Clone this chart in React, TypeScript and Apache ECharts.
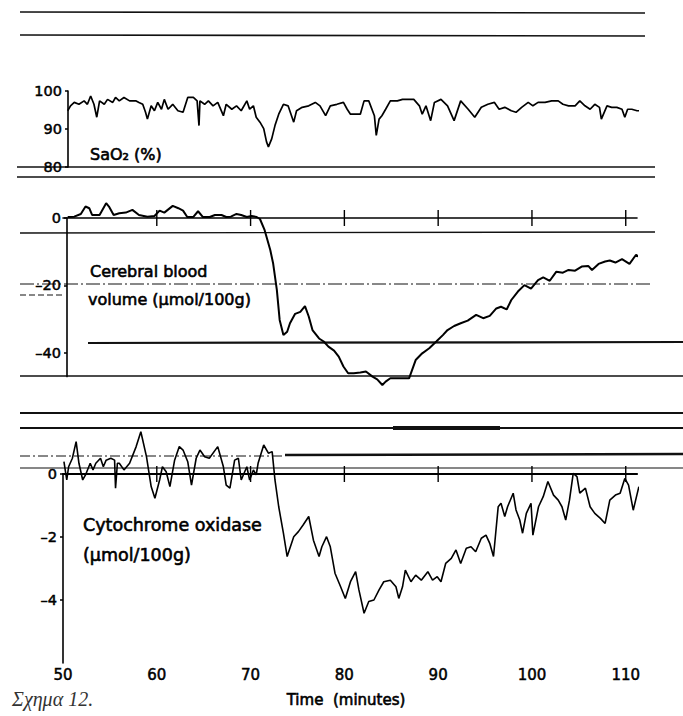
import React, { useEffect, useRef } from "react";
import * as echarts from "echarts";

// ---- data (time in minutes, value) ----
const xTicks = [50, 60, 70, 80, 90, 100, 110];
const zeroLineTicks = [60, 70, 80, 90, 100, 110];
const saTicks = [80, 90, 100];
const cbvTicks = [0, -20, -40];
const cytoTicks = [0, -2, -4];

const saO2: [number, number][] = [
  [50.5, 94.8], [50.8, 96.1], [51.2, 97.0], [51.7, 96.5], [52.25, 97.4], [52.6, 96.5], [52.95, 98.7],
  [53.3, 96.5], [53.6, 93.1], [53.9, 97.4], [54.4, 96.5], [54.75, 97.8], [55.3, 97.0], [55.6, 98.3],
  [56.0, 97.4], [56.5, 98.3], [57.1, 97.4], [57.8, 97.4], [58.1, 97.0], [58.5, 96.5], [58.8, 94.4],
  [59.0, 92.6], [59.4, 96.1], [59.75, 94.8], [60.1, 97.0], [60.5, 95.2], [60.8, 97.8], [61.2, 95.2],
  [61.7, 96.5], [62.25, 94.8], [62.8, 94.4], [63.3, 98.3], [63.9, 98.3], [64.3, 97.4], [64.5, 90.9],
  [64.6, 97.4], [65.1, 96.5], [65.5, 97.4], [66.0, 96.1], [66.5, 97.0], [67.1, 93.5], [67.4, 96.5],
  [68.0, 95.2], [68.5, 96.1], [69.0, 94.8], [69.6, 97.4], [69.9, 95.2], [70.3, 96.1], [70.6, 93.1],
  [71.0, 91.8], [71.4, 90.1], [71.7, 86.6], [71.9, 85.3], [72.25, 87.4], [72.6, 90.9], [73.0, 93.9],
  [73.5, 96.5], [74.0, 96.1], [74.6, 91.8], [74.9, 94.8], [75.5, 95.7], [76.2, 96.1], [76.9, 97.0],
  [77.4, 96.1], [78.0, 93.5], [78.5, 96.1], [79.2, 96.5], [79.9, 97.0], [80.3, 95.2], [80.65, 93.9],
  [81.7, 93.9], [82.1, 97.4], [82.6, 97.4], [83.2, 93.5], [83.4, 88.3], [83.7, 92.6], [84.0, 93.5],
  [84.4, 95.2], [84.9, 97.4], [85.65, 97.4], [86.2, 97.8], [86.7, 97.8], [87.4, 97.8], [88.0, 96.1],
  [88.3, 93.9], [88.7, 96.1], [89.2, 92.2], [89.6, 97.0], [90.3, 97.8], [91.0, 96.1], [91.7, 92.2],
  [92.4, 97.4], [93.2, 95.2], [93.9, 93.1], [94.6, 95.7], [95.3, 96.5], [96.0, 97.0], [96.5, 95.2],
  [97.1, 95.7], [97.8, 94.8], [98.3, 94.4], [98.9, 95.7], [99.6, 97.0], [100.1, 96.1], [100.65, 97.0],
  [101.4, 97.0], [102.1, 97.4], [102.8, 97.4], [103.3, 96.5], [103.9, 96.1], [104.6, 96.1], [105.1, 97.4],
  [105.65, 96.1], [106.2, 95.2], [106.7, 96.5], [107.2, 95.7], [107.4, 92.6], [108.0, 96.1], [108.5, 95.7],
  [109.05, 95.7], [109.6, 95.2], [109.9, 93.1], [110.2, 95.2], [110.65, 95.2], [111.2, 94.8], [111.7, 94.8],
];

const bloodVolume: [number, number][] = [
  [50.5, 0.3], [51.2, 0.4], [51.9, 1.2], [52.4, 3.4], [52.8, 2.9], [53.1, 0.9], [53.9, 0.9], [54.6, 4.4],
  [54.9, 3.4], [55.4, 0.9], [56.0, 1.4], [56.7, 1.6], [57.4, 2.4], [58.1, 0.9], [59.0, 0.4], [59.75, 0.6],
  [60.3, 2.2], [60.8, 1.6], [61.7, 3.6], [62.3, 2.9], [62.8, 2.2], [63.25, 0.3], [63.9, 0.3], [64.4, 2.0],
  [64.9, 0.3], [65.65, 0.3], [66.2, 0.9], [66.9, 0.9], [67.4, 0.3], [67.9, 0.4], [68.5, 1.2], [69.0, 0.9],
  [69.6, 0.3], [70.1, 0.6], [70.65, 0.3], [71.0, -0.3], [71.5, -3.6], [72.1, -9.5], [72.4, -13.4],
  [72.8, -21.3], [73.1, -30.2], [73.5, -34.7], [73.9, -33.7], [74.2, -31.2], [74.75, -28.4], [75.3, -27.8],
  [75.8, -26.1], [76.2, -29.2], [76.6, -33.2], [77.3, -35.7], [77.8, -36.6], [78.3, -38.1], [78.9, -39.3],
  [79.4, -41.1], [79.9, -44.0], [80.4, -46.0], [81.0, -46.0], [81.7, -45.8], [82.3, -45.5], [83.0, -47.0],
  [83.5, -47.8], [84.05, -49.5], [84.4, -48.5], [84.9, -47.5], [85.8, -47.5], [86.9, -47.5], [87.6, -42.1],
  [88.3, -40.1], [89.05, -38.6], [89.8, -36.6], [90.5, -34.7], [91.0, -33.2], [91.7, -32.0], [92.4, -31.2],
  [93.15, -30.4], [94.05, -28.7], [94.8, -29.7], [95.5, -29.0], [96.2, -26.8], [96.7, -26.3], [97.3, -27.1],
  [97.8, -24.3], [98.5, -21.8], [99.2, -19.9], [99.9, -20.9], [100.65, -18.4], [101.2, -17.6], [101.9, -18.6],
  [102.6, -15.9], [103.3, -16.2], [103.9, -15.4], [104.6, -15.6], [105.3, -14.4], [106.0, -14.2], [106.4, -15.4],
  [107.1, -13.6], [107.8, -12.9], [108.3, -12.6], [108.9, -13.2], [109.6, -12.2], [110.4, -13.6], [111.1, -10.9],
  [111.55, -11.9],
];

const cytochrome: [number, number][] = [
  [50.1, 0.39], [50.4, -0.19], [50.6, 0.23], [51.0, 0.5], [51.4, 1.03], [51.7, 0.34], [52.1, -0.19],
  [52.4, -0.03], [52.9, 0.34], [53.2, 0.13], [53.5, 0.34], [54.0, 0.5], [54.3, 0.23], [54.6, 0.44],
  [55.1, 0.5], [55.5, 0.44], [55.6, -0.45], [55.8, 0.34], [56.0, 0.34], [56.5, 0.13], [57.1, 0.34],
  [57.8, 0.87], [58.3, 1.34], [58.9, 0.55], [59.4, -0.4], [59.8, -0.77], [60.3, -0.19], [60.6, 0.23],
  [61.0, 0.07], [61.4, -0.4], [61.9, 0.44], [62.4, 0.87], [62.8, 0.76], [63.3, 0.39], [63.7, -0.35],
  [64.2, 0.5], [64.6, 0.76], [65.1, 0.55], [65.6, 0.5], [66.5, 0.87], [67.1, 0.23], [67.4, -0.35],
  [67.8, -0.45], [68.3, 0.44], [68.7, 0.5], [69.0, -0.19], [69.6, 0.23], [69.9, -0.19], [70.3, 0.13],
  [70.6, -0.03], [70.8, 0.34], [71.4, 0.92], [71.9, 0.66], [72.3, 0.71], [72.6, -0.19], [73.0, -1.04],
  [73.5, -1.88], [73.9, -2.62], [74.6, -1.99], [75.1, -1.83], [75.6, -1.62], [76.2, -1.35], [76.7, -2.1],
  [77.3, -2.62], [77.6, -2.31], [78.1, -1.99], [78.5, -2.31], [79.0, -3.15], [79.6, -3.58], [80.1, -3.95],
  [80.65, -3.42], [81.2, -3.1], [81.55, -3.68], [82.1, -4.42], [82.6, -4.05], [83.15, -4.0], [83.7, -3.68],
  [84.2, -3.42], [84.9, -3.37], [85.5, -3.58], [85.8, -3.95], [86.2, -3.58], [86.5, -3.05], [87.1, -3.42],
  [87.6, -3.21], [88.2, -3.37], [88.9, -3.1], [89.4, -3.37], [89.9, -3.26], [90.3, -3.42], [90.8, -2.84],
  [91.4, -2.68], [91.9, -2.41], [92.4, -2.84], [93.0, -2.36], [93.5, -2.31], [94.0, -2.47], [94.6, -2.04],
  [95.1, -1.94], [95.5, -2.2], [95.9, -2.62], [96.4, -1.04], [96.7, -0.93], [97.1, -1.35], [97.4, -1.04],
  [98.0, -0.61], [98.3, -1.14], [98.7, -1.46], [99.0, -1.88], [99.4, -1.25], [99.9, -0.93], [100.1, -1.94],
  [100.7, -1.04], [101.2, -0.72], [101.7, -0.24], [102.3, -0.67], [102.8, -0.83], [103.2, -1.04], [103.6, -1.46],
  [104.0, -0.83], [104.4, 0.02], [104.8, -0.08], [105.1, -0.61], [105.7, -0.45], [106.2, -1.04], [106.7, -1.25],
  [107.3, -1.41], [107.8, -1.57], [108.3, -0.83], [108.9, -0.67], [109.4, -0.61], [109.9, -0.14], [110.3, -0.35],
  [110.8, -1.15], [111.4, -0.4],
];

const FONT = "DejaVu Sans";

function dashLabel(v: number) {
  return String(v).replace("-", "\u2013");
}

function yAxisBase(min: number, max: number, ticks: number[], gridIndex: number, offset: number) {
  return {
    type: "value",
    gridIndex,
    min,
    max,
    offset,
    splitLine: { show: false },
    axisLine: { show: true, lineStyle: { color: "#000", width: 1.6 } },
    axisTick: { show: true, customValues: ticks, length: 3, lineStyle: { color: "#000", width: 1.5 } },
    axisLabel: {
      customValues: ticks,
      formatter: dashLabel,
      color: "#000",
      fontFamily: FONT,
      fontSize: 14.5,
      margin: 6,
      textBorderColor: "#000",
      textBorderWidth: 0.5,
    },
  };
}

function hline(x1: number, y1: number, x2: number, y2: number, w: number, dash?: number[]) {
  return {
    type: "line",
    silent: true,
    shape: { x1, y1, x2, y2 },
    style: { stroke: "#111", lineWidth: w, lineDash: dash },
  };
}

function tickSeries(xIdx: number, yIdx: number) {
  return {
    type: "custom",
    xAxisIndex: xIdx,
    yAxisIndex: yIdx,
    silent: true,
    clip: false,
    data: zeroLineTicks.map((t) => [t, 0]),
    renderItem: (_params: any, api: any) => {
      const p = api.coord([api.value(0), api.value(1)]);
      return {
        type: "line",
        shape: { x1: p[0], y1: p[1] - 8, x2: p[0], y2: p[1] + 8 },
        style: { stroke: "#000", lineWidth: 1.4 },
      };
    },
  };
}

function label(text: string, x: number, y: number, size: number, extra: any = {}) {
  return {
    type: "text",
    x,
    y,
    silent: true,
    style: {
      text,
      fontFamily: FONT,
      fontSize: size,
      fill: "#000",
      stroke: "#000",
      lineWidth: 0.6,
      verticalAlign: "middle",
      ...extra,
    },
  };
}

export default function App() {
  const ref = useRef<HTMLDivElement>(null);

  useEffect(() => {
    if (!ref.current) return;
    const chart = echarts.init(ref.current, undefined, { renderer: "svg" });

    const xBase = {
      type: "value",
      min: 50,
      max: 111.2,
      splitLine: { show: false },
    };

    const option: any = {
      animation: false,
      backgroundColor: "#fff",
      grid: [
        { left: 63, top: 91, width: 574, height: 76 },
        { left: 63, top: 218, width: 574, height: 158.6 },
        { left: 63, top: 474, width: 574, height: 189 },
      ],
      xAxis: [
        { ...xBase, gridIndex: 0, show: false },
        {
          ...xBase,
          gridIndex: 1,
          position: "top",
          axisLine: { show: true, lineStyle: { color: "#000", width: 1.6 } },
          axisTick: { show: false },
          axisLabel: { show: false },
        },
        {
          ...xBase,
          gridIndex: 2,
          position: "bottom",
          interval: 10,
          axisLine: { show: true, lineStyle: { color: "#000", width: 1.8 } },
          axisTick: { show: false },
          axisLabel: {
            customValues: xTicks,
            color: "#000",
            fontFamily: FONT,
            fontSize: 15,
            margin: 4,
            textBorderColor: "#000",
            textBorderWidth: 0.5,
          },
        },
        {
          ...xBase,
          gridIndex: 2,
          position: "top",
          axisLine: { show: true, lineStyle: { color: "#000", width: 1.6 } },
          axisTick: { show: false },
          axisLabel: { show: false },
        },
      ],
      yAxis: [
        yAxisBase(80, 100, saTicks, 0, -5),
        yAxisBase(-47, 0, cbvTicks, 1, -4),
        yAxisBase(-6, 0, cytoTicks, 2, 0),
      ],
      series: [
        {
          type: "line",
          name: "SaO2",
          xAxisIndex: 0,
          yAxisIndex: 0,
          data: saO2,
          showSymbol: false,
          clip: false,
          lineStyle: { color: "#000", width: 1.7 },
        },
        {
          type: "line",
          name: "Cerebral blood volume",
          xAxisIndex: 1,
          yAxisIndex: 1,
          data: bloodVolume,
          showSymbol: false,
          clip: false,
          lineStyle: { color: "#000", width: 2 },
        },
        {
          type: "line",
          name: "Cytochrome oxidase",
          xAxisIndex: 2,
          yAxisIndex: 2,
          data: cytochrome,
          showSymbol: false,
          clip: false,
          lineStyle: { color: "#000", width: 1.6 },
        },
        tickSeries(1, 1),
        tickSeries(3, 2),
      ],
      graphic: [
        // scanned rule lines
        hline(20, 12, 645, 13, 1.6),
        hline(20, 35, 645, 36, 1.6),
        hline(17, 167, 655, 167, 1.5),
        hline(17, 177, 655, 177, 1.3),
        hline(20, 233, 655, 232, 1.3),
        hline(20, 284, 650, 284, 1, [14, 3, 2, 3]),
        hline(20, 295, 62, 295, 1, [6, 3]),
        hline(88, 343, 683, 342, 2.2),
        hline(20, 376, 683, 376, 1.6),
        hline(20, 413, 683, 413, 2.2),
        hline(20, 428, 683, 428, 1.8),
        hline(393, 428, 500, 428, 4),
        hline(285, 455, 683, 454, 2.6),
        hline(20, 456, 285, 456, 1, [10, 3, 2, 3]),
        hline(20, 468, 683, 468, 1.2),
        // annotations
        label("SaO\u2082 (%)", 90, 154, 16),
        label("Cerebral blood", 90, 271, 16),
        label("volume (\u00b5mol/100g)", 88, 299, 16),
        label("Cytochrome oxidase", 83, 525, 17.5),
        label("(\u00b5mol/100g)", 83, 555, 17.5),
        label("Time  (minutes)", 346, 700, 15, { align: "center" }),
        {
          type: "text",
          x: 12,
          y: 699,
          silent: true,
          style: {
            text: "\u03a3\u03c7\u03b7\u03bc\u03b1 12.",
            fontFamily: "Liberation Serif",
            fontStyle: "italic",
            fontSize: 20,
            fill: "#333",
            verticalAlign: "middle",
          },
        },
      ],
    };

    chart.setOption(option);
    return () => chart.dispose();
  }, []);

  return <div ref={ref} style={{ position: "absolute", left: 0, top: 0, width: 683, height: 716 }} />;
}
